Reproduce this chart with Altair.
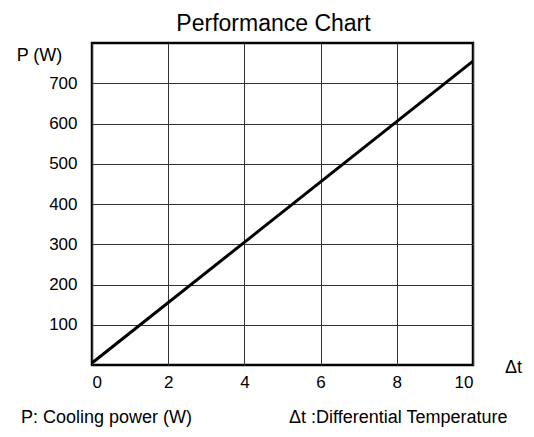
import altair as alt
import pandas as pd

dt_values = [0, 10]
power_values = [5, 755]
x_ticks = [0, 2, 4, 6, 8, 10]
y_ticks = [100, 200, 300, 400, 500, 600, 700]

FONT = "Liberation Sans"

df = pd.DataFrame({"dt": dt_values, "p": power_values})

line = alt.Chart(df).mark_line(color="black", strokeWidth=3, clip=True).encode(
    x=alt.X("dt:Q", scale=alt.Scale(domain=[0, 10], nice=False, zero=False),
            axis=alt.Axis(values=x_ticks, title="Δt", titleAngle=0, titleX=421, titleY=2,
                          titleFont=FONT, titleFontSize=18, titleFontWeight="normal",
                          titleAlign="center", titleBaseline="middle", titleColor="black",
                          labelFont=FONT, labelFontSize=17, labelColor="black", labelPadding=9,
                          ticks=False, domain=False, grid=True, gridColor="#333",
                          gridWidth=1)),
    y=alt.Y("p:Q", scale=alt.Scale(domain=[0, 800], nice=False),
            axis=alt.Axis(values=y_ticks, title="P (W)", titleAngle=0, titleX=-53, titleY=12,
                          titleFont=FONT, titleFontSize=18, titleFontWeight="normal",
                          titleAlign="center", titleBaseline="middle", titleColor="black",
                          labelFont=FONT, labelFontSize=17, labelColor="black", labelPadding=15,
                          ticks=False, domain=False, grid=True, gridColor="#333",
                          gridWidth=1)),
)

note1 = alt.Chart(pd.DataFrame({"t": ["P: Cooling power (W)"]})).mark_text(
    font=FONT, fontSize=18, align="left", baseline="alphabetic", color="black"
).encode(text="t:N", x=alt.value(-71), y=alt.value(380))

note2 = alt.Chart(pd.DataFrame({"t": ["Δt :Differential Temperature"]})).mark_text(
    font=FONT, fontSize=18, align="left", baseline="alphabetic", color="black"
).encode(text="t:N", x=alt.value(197), y=alt.value(380))

chart = alt.layer(line, note1, note2).properties(
    width=381,
    height=322,
    background="white",
    title=alt.TitleParams("Performance Chart", font=FONT, fontSize=23, fontWeight="normal",
                          color="black", anchor="middle", offset=7, dx=-9),
    autosize=alt.AutoSizeParams(type="none"),
    padding={"left": 84, "top": 35, "right": 52, "bottom": 64},
).configure_view(stroke="black", strokeWidth=2.5)

chart.save("out.html", embed_options={"renderer": "svg", "actions": False})
